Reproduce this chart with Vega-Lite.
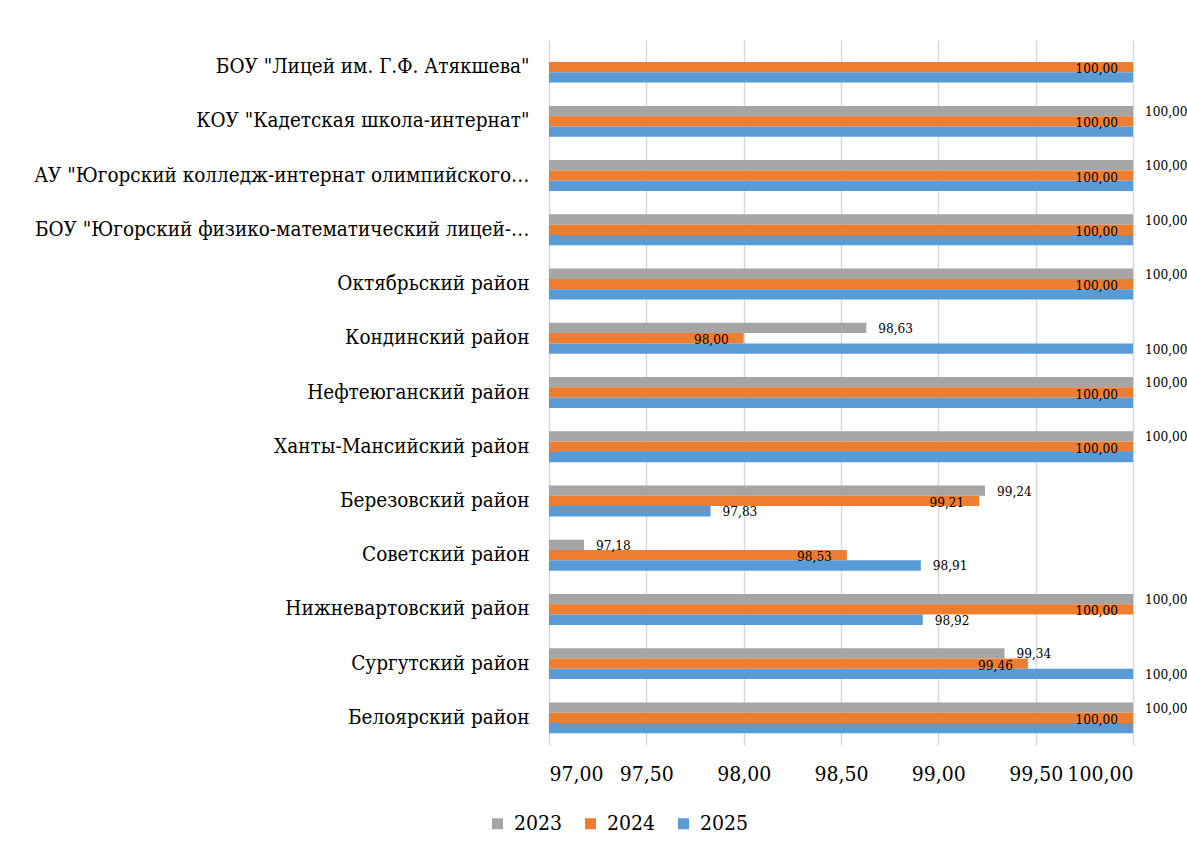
{
  "$schema": "https://vega.github.io/schema/vega-lite/v6.json",
  "width": 584,
  "height": 705,
  "padding": {"left": 549, "top": 40, "right": 54, "bottom": 109},
  "autosize": {"type": "none"},
  "background": "white",
  "config": {
    "view": {"stroke": null},
    "font": "DejaVu Serif Condensed"
  },
  "data": {
    "values": [
      {"cat": "БОУ \"Лицей им. Г.Ф. Атякшева\"", "year": "2024", "value": 100, "label": "100,00"},
      {"cat": "БОУ \"Лицей им. Г.Ф. Атякшева\"", "year": "2025", "value": 100, "label": ""},
      {"cat": "КОУ \"Кадетская школа-интернат\"", "year": "2023", "value": 100, "label": "100,00"},
      {"cat": "КОУ \"Кадетская школа-интернат\"", "year": "2024", "value": 100, "label": "100,00"},
      {"cat": "КОУ \"Кадетская школа-интернат\"", "year": "2025", "value": 100, "label": ""},
      {"cat": "АУ \"Югорский колледж-интернат олимпийского…", "year": "2023", "value": 100, "label": "100,00"},
      {"cat": "АУ \"Югорский колледж-интернат олимпийского…", "year": "2024", "value": 100, "label": "100,00"},
      {"cat": "АУ \"Югорский колледж-интернат олимпийского…", "year": "2025", "value": 100, "label": ""},
      {"cat": "БОУ \"Югорский физико-математический лицей-…", "year": "2023", "value": 100, "label": "100,00"},
      {"cat": "БОУ \"Югорский физико-математический лицей-…", "year": "2024", "value": 100, "label": "100,00"},
      {"cat": "БОУ \"Югорский физико-математический лицей-…", "year": "2025", "value": 100, "label": ""},
      {"cat": "Октябрьский район", "year": "2023", "value": 100, "label": "100,00"},
      {"cat": "Октябрьский район", "year": "2024", "value": 100, "label": "100,00"},
      {"cat": "Октябрьский район", "year": "2025", "value": 100, "label": ""},
      {"cat": "Кондинский район", "year": "2023", "value": 98.63, "label": "98,63"},
      {"cat": "Кондинский район", "year": "2024", "value": 98.0, "label": "98,00"},
      {"cat": "Кондинский район", "year": "2025", "value": 100, "label": "100,00"},
      {"cat": "Нефтеюганский район", "year": "2023", "value": 100, "label": "100,00"},
      {"cat": "Нефтеюганский район", "year": "2024", "value": 100, "label": "100,00"},
      {"cat": "Нефтеюганский район", "year": "2025", "value": 100, "label": ""},
      {"cat": "Ханты-Мансийский район", "year": "2023", "value": 100, "label": "100,00"},
      {"cat": "Ханты-Мансийский район", "year": "2024", "value": 100, "label": "100,00"},
      {"cat": "Ханты-Мансийский район", "year": "2025", "value": 100, "label": ""},
      {"cat": "Березовский район", "year": "2023", "value": 99.24, "label": "99,24"},
      {"cat": "Березовский район", "year": "2024", "value": 99.21, "label": "99,21"},
      {"cat": "Березовский район", "year": "2025", "value": 97.83, "label": "97,83"},
      {"cat": "Советский район", "year": "2023", "value": 97.18, "label": "97,18"},
      {"cat": "Советский район", "year": "2024", "value": 98.53, "label": "98,53"},
      {"cat": "Советский район", "year": "2025", "value": 98.91, "label": "98,91"},
      {"cat": "Нижневартовский район", "year": "2023", "value": 100, "label": "100,00"},
      {"cat": "Нижневартовский район", "year": "2024", "value": 100, "label": "100,00"},
      {"cat": "Нижневартовский район", "year": "2025", "value": 98.92, "label": "98,92"},
      {"cat": "Сургутский район", "year": "2023", "value": 99.34, "label": "99,34"},
      {"cat": "Сургутский район", "year": "2024", "value": 99.46, "label": "99,46"},
      {"cat": "Сургутский район", "year": "2025", "value": 100, "label": "100,00"},
      {"cat": "Белоярский район", "year": "2023", "value": 100, "label": "100,00"},
      {"cat": "Белоярский район", "year": "2024", "value": 100, "label": "100,00"},
      {"cat": "Белоярский район", "year": "2025", "value": 100, "label": ""}
    ]
  },
  "encoding": {
    "y": {
      "field": "cat",
      "type": "nominal",
      "sort": null,
      "title": null,
      "scale": {"paddingInner": 0.43, "paddingOuter": 0.215},
      "axis": {
        "domain": false,
        "ticks": false,
        "labelPadding": 20,
        "labelFont": "DejaVu Serif Condensed",
        "labelFontSize": 20.5,
        "labelColor": "#000000",
        "labelLimit": 600
      }
    },
    "yOffset": {"field": "year", "type": "nominal", "sort": ["2023", "2024", "2025"]}
  },
  "layer": [
    {
      "mark": {"type": "bar"},
      "encoding": {
        "x": {
          "field": "value",
          "type": "quantitative",
          "title": null,
          "scale": {"domain": [97, 100], "zero": false, "nice": false},
          "axis": {
            "values": [97, 97.5, 98, 98.5, 99, 99.5, 100],
            "labelExpr": "replace(format(datum.value, '.2f'), '.', ',')",
            "labelOverlap": false,
            "domain": false,
            "ticks": false,
            "grid": true,
            "gridColor": "#d9d9d9",
            "gridWidth": 1.5,
            "labelPadding": 18,
            "labelFont": "DejaVu Serif Condensed",
            "labelFontSize": 21,
            "labelColor": "#000000"
          }
        },
        "x2": {"datum": 97},
        "color": {
          "field": "year",
          "type": "nominal",
          "scale": {"domain": ["2023", "2024", "2025"], "range": ["#a5a5a5", "#ed7d31", "#5b9bd5"]},
          "legend": {
            "title": null,
            "orient": "none",
            "legendX": -62,
            "legendY": 773,
            "direction": "horizontal",
            "symbolType": "square",
            "symbolSize": 121,
            "symbolStrokeWidth": 0,
            "labelFont": "DejaVu Serif Condensed",
            "labelFontSize": 21,
            "labelColor": "#000000",
            "labelOffset": 6,
            "columnPadding": 17
          }
        }
      }
    },
    {
      "transform": [{"filter": "datum.year != '2024' && datum.label != ''"}],
      "mark": {"type": "text", "align": "left", "baseline": "middle", "dx": 12, "dy": 1, "font": "DejaVu Serif Condensed", "fontSize": 13.5, "color": "#000000"},
      "encoding": {
        "x": {"field": "value", "type": "quantitative"},
        "text": {"field": "label"}
      }
    },
    {
      "transform": [{"filter": "datum.year == '2024' && datum.label != ''"}],
      "mark": {"type": "text", "align": "right", "baseline": "middle", "dx": -15, "dy": 2, "font": "DejaVu Serif Condensed", "fontSize": 13.5, "color": "#000000"},
      "encoding": {
        "x": {"field": "value", "type": "quantitative"},
        "text": {"field": "label"}
      }
    }
  ]
}
